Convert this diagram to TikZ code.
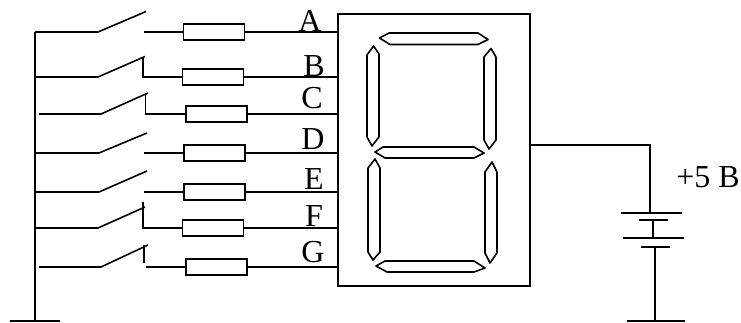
\documentclass[tikz,border=0pt]{standalone}
\usepackage{fontspec}
\setmainfont{Liberation Serif}
\tikzset{
    wire/.style={line width=1.2pt},
    res/.style={draw, line width=1.2pt, minimum width=46pt, minimum height=12pt, inner sep=0pt},
    segment/.style={line width=1.2pt, line join=round},
    letter/.style={inner sep=0pt, font=\fontsize{24}{24}\selectfont},
    display/.style={draw, line width=1.2pt, minimum width=144pt, minimum height=204pt, inner sep=0pt}
}

\begin{document}
\begin{tikzpicture}[x=0.75pt, y=-0.75pt, wire]
    \useasboundingbox (0,0) rectangle (741,322);

    \node[display] (box) at (434.25,150) {};

    % common rail and ground
    \coordinate (railtop) at (35,32);
    \coordinate (railend) at (35,321);
    \coordinate (gndl) at (10,321);
    \coordinate (gndr) at (60,321);
    \draw (railtop) -- (railend);
    \draw (gndl) -- (gndr);

    % row A
    \coordinate (a0) at (35,32);
    \coordinate (a1) at (98,32);
    \coordinate (a2) at (146,11.5);
    \coordinate (a3) at (144,32);
    \coordinate (a4) at (338,32);
    \node[res] (ra) at (214,32) {};
    \draw (a0) -- (a1) -- (a2);
    \draw (a3) -- (ra);
    \draw (ra) -- (a4);
    \node[letter] (la) at (310,21) {A};

    % row B
    \coordinate (b0) at (35,77);
    \coordinate (b1) at (98,77);
    \coordinate (b2) at (145,56.5);
    \coordinate (b3) at (143,56.5);
    \coordinate (b4) at (143,77);
    \coordinate (b5) at (337,77);
    \node[res] (rb) at (213,77) {};
    \draw (b0) -- (b1) -- (b2);
    \draw (b3) -- (b4) -- (rb);
    \draw (rb) -- (b5);
    \node[letter] (lb) at (314,66) {B};

    % row C
    \coordinate (c0) at (39,114);
    \coordinate (c1) at (101,114);
    \coordinate (c2) at (148,93);
    \coordinate (c3) at (145.5,93);
    \coordinate (c4) at (145.5,114);
    \coordinate (c5) at (338,114);
    \node[res] (rc) at (216.5,114) {};
    \draw (c0) -- (c1) -- (c2);
    \draw (c3) -- (c4) -- (rc);
    \draw (rc) -- (c5);
    \node[letter] (lc) at (312,98) {C};

    % row D
    \coordinate (d0) at (35,153);
    \coordinate (d1) at (99,153);
    \coordinate (d2) at (147,133);
    \coordinate (d3) at (144,153);
    \coordinate (d4) at (338,153);
    \node[res] (rd) at (214.5,153) {};
    \draw (d0) -- (d1) -- (d2);
    \draw (d3) -- (rd);
    \draw (rd) -- (d4);
    \node[letter] (ld) at (313,139) {D};

    % row E
    \coordinate (e0) at (35,192);
    \coordinate (e1) at (99,192);
    \coordinate (e2) at (147,171);
    \coordinate (e3) at (144,192);
    \coordinate (e4) at (338,192);
    \node[res] (re) at (214.5,192) {};
    \draw (e0) -- (e1) -- (e2);
    \draw (e3) -- (re);
    \draw (re) -- (e4);
    \node[letter] (le) at (314,179) {E};

    % row F
    \coordinate (f0) at (35,228);
    \coordinate (f1) at (98,228);
    \coordinate (f2) at (145,207);
    \coordinate (f3) at (143,202);
    \coordinate (f4) at (143,228);
    \coordinate (f5) at (337,228);
    \node[res] (rf) at (213,228) {};
    \draw (f0) -- (f1) -- (f2);
    \draw (f3) -- (f4) -- (rf);
    \draw (rf) -- (f5);
    \node[letter] (lf) at (314,216) {F};

    % row G
    \coordinate (g0) at (39,267);
    \coordinate (g1) at (101,267);
    \coordinate (g2) at (148,245);
    \coordinate (g3) at (144,245);
    \coordinate (g4) at (144,263);
    \coordinate (g5) at (146,267);
    \coordinate (g6) at (338,267);
    \node[res] (rg) at (216.5,267) {};
    \draw (g0) -- (g1) -- (g2);
    \draw (g3) -- (g4);
    \draw (g5) -- (rg);
    \draw (rg) -- (g6);
    \node[letter] (lg) at (313,252) {G};

    % seven segments
    \draw[segment] (379.5,38) -- (389,33) -- (478,33) -- (488,39.5) -- (478,44.5) -- (390,44.5) -- cycle;
    \draw[segment] (367,55) -- (373.5,46) -- (379,54) -- (379,137) -- (372,146) -- (367,137) -- cycle;
    \draw[segment] (484,57) -- (491,48.5) -- (496,57) -- (496,140) -- (489,149) -- (484,140) -- cycle;
    \draw[segment] (375,152) -- (383,147) -- (474,147) -- (484,153) -- (474,158) -- (385,158) -- cycle;
    \draw[segment] (368,168) -- (375,159) -- (380,168) -- (380,252) -- (373,260) -- (368,252) -- cycle;
    \draw[segment] (485,172) -- (492,162) -- (497,172) -- (497,253) -- (490,263) -- (485,253) -- cycle;
    \draw[segment] (376,266) -- (385,261) -- (474,261) -- (485,268) -- (474,272) -- (387,272) -- cycle;

    % battery
    \coordinate (p0) at (530.5,145);
    \coordinate (p1) at (650,145);
    \coordinate (p2) at (650,213);
    \coordinate (bat1l) at (621,213);
    \coordinate (bat1r) at (682,213);
    \coordinate (bat2l) at (639,220);
    \coordinate (bat2r) at (668,220);
    \coordinate (bat2m) at (653,220);
    \coordinate (bat3m) at (653,238);
    \coordinate (bat3l) at (623,238);
    \coordinate (bat3r) at (684,238);
    \coordinate (bat4l) at (641,247);
    \coordinate (bat4r) at (670,247);
    \coordinate (bat4m) at (655,247);
    \coordinate (q1) at (655,321);
    \coordinate (gnd2l) at (627,321);
    \coordinate (gnd2r) at (685,321);
    \draw (p0) -- (p1) -- (p2);
    \draw (bat1l) -- (bat1r);
    \draw (bat2l) -- (bat2r);
    \draw (bat2m) -- (bat3m);
    \draw (bat3l) -- (bat3r);
    \draw (bat4l) -- (bat4r);
    \draw (bat4m) -- (q1);
    \draw (gnd2l) -- (gnd2r);
    \node[letter] (vcc) at (708,177) {+5 B};
\end{tikzpicture}
\end{document}
